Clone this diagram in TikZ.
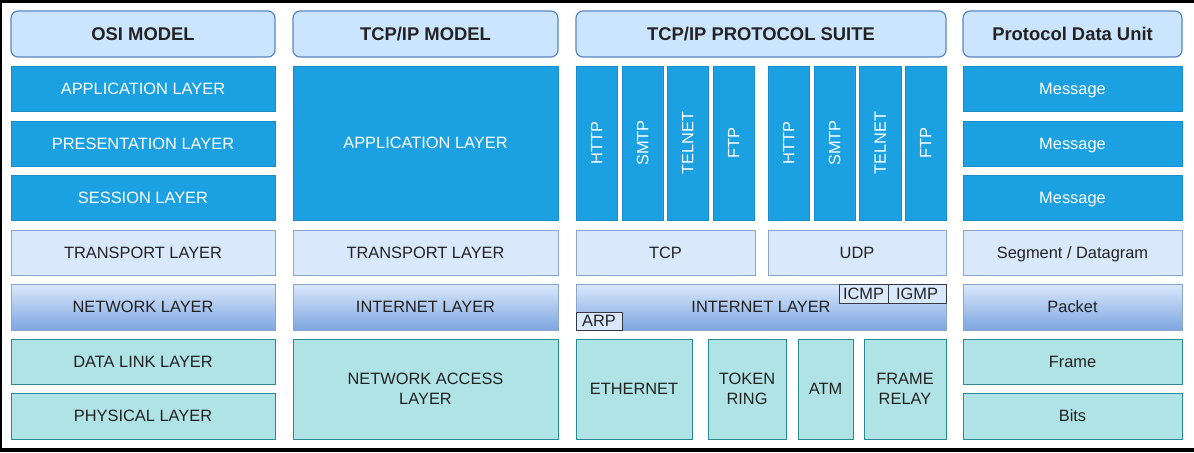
\documentclass[tikz,border=0pt]{standalone}
\usepackage{fontspec}
\setmainfont{Liberation Sans}

\definecolor{hdrfill}{HTML}{CCE5FF}
\definecolor{hdrline}{HTML}{5A85C2}
\definecolor{appfill}{HTML}{1BA1E2}
\definecolor{appline}{HTML}{1A8CCB}
\definecolor{trfill}{HTML}{DAE8FC}
\definecolor{trline}{HTML}{8BA6CC}
\definecolor{nettop}{HTML}{DAE8FC}
\definecolor{netbot}{HTML}{7EA6E0}
\definecolor{linkfill}{HTML}{B0E3E6}
\definecolor{linkline}{HTML}{2A8A92}
\definecolor{tagline}{HTML}{36393D}
\definecolor{labelgray}{HTML}{222222}

\tikzset{
  header/.style={fill=hdrfill, draw=hdrline, rounded corners=3.5pt, line width=0.6pt},
  appbox/.style={fill=appfill, draw=appline, line width=0.5pt},
  trbox/.style={fill=trfill, draw=trline, line width=0.5pt},
  netbox/.style={top color=nettop, bottom color=netbot, draw=trline, line width=0.5pt},
  linkbox/.style={fill=linkfill, draw=linkline, line width=0.5pt},
  tagbox/.style={fill=trfill, draw=tagline, line width=0.5pt},
  hdrtext/.style={font=\fontsize{9.2}{11}\selectfont\bfseries, text=labelgray, inner sep=0pt, text height=6.6pt, text depth=0pt},
  apptext/.style={font=\fontsize{8.2}{10}\selectfont, text=white, inner sep=0pt, text height=5.9pt, text depth=0pt},
  lowtext/.style={font=\fontsize{8.2}{10}\selectfont, text=labelgray, inner sep=0pt, text height=5.9pt, text depth=0pt},
  pairtext/.style={font=\fontsize{8.2}{10}\selectfont, text=labelgray, align=center, inner sep=0pt}
}

\begin{document}
\begin{tikzpicture}[x=0.5pt,y=-0.5pt]
\useasboundingbox (0,0) rectangle (1194,452);
\fill[black] (0,0) rectangle (1194,452);
\fill[white] (2,3) rectangle (1194,448);

% column headers
\draw[header] (11,11) rectangle (275,57);
\draw[header] (293,11) rectangle (558,57);
\draw[header] (576,11) rectangle (946,57);
\draw[header] (963,11) rectangle (1182,57);
\node[hdrtext] (osihead) at (143,34) {OSI MODEL};
\node[hdrtext] (tcphead) at (425.5,34) {TCP/IP MODEL};
\node[hdrtext] (suitehead) at (761,34) {TCP/IP PROTOCOL SUITE};
\node[hdrtext] (pduhead) at (1072.5,34) {Protocol Data Unit};

% OSI model
\draw[appbox] (11,66) rectangle (275,111);
\draw[appbox] (11,121) rectangle (275,166);
\draw[appbox] (11,175) rectangle (275,220);
\draw[trbox] (11,230) rectangle (275,275);
\draw[netbox] (11,284) rectangle (275,330);
\draw[linkbox] (11,339) rectangle (275,384);
\draw[linkbox] (11,393) rectangle (275,439);

\node[apptext] (osiapp) at (143,88.5) {APPLICATION LAYER};
\node[apptext] (osipres) at (143,143.5) {PRESENTATION LAYER};
\node[apptext] (osisess) at (143,197.5) {SESSION LAYER};
\node[lowtext] (ositrans) at (143,252.5) {TRANSPORT LAYER};
\node[lowtext] (osinet) at (143,307) {NETWORK LAYER};
\node[lowtext] (osilink) at (143,361.5) {DATA LINK LAYER};
\node[lowtext] (osiphys) at (143,416) {PHYSICAL LAYER};

% TCP/IP model
\draw[appbox] (293,66) rectangle (558,220);
\draw[trbox] (293,230) rectangle (558,275);
\draw[netbox] (293,284) rectangle (558,330);
\draw[linkbox] (293,339) rectangle (558,439);

\node[apptext] (tcpapp) at (425.5,143) {APPLICATION LAYER};
\node[lowtext] (tcptrans) at (425.5,252.5) {TRANSPORT LAYER};
\node[lowtext] (tcpinet) at (425.5,307) {INTERNET LAYER};
\node[pairtext] (tcpacc) at (425.5,389) {NETWORK ACCESS\\LAYER};

% protocol suite
\draw[appbox] (576,66) rectangle (617,220);
\draw[appbox] (622,66) rectangle (663,220);
\draw[appbox] (667,66) rectangle (708,220);
\draw[appbox] (713,66) rectangle (754,220);
\draw[appbox] (768,66) rectangle (809,220);
\draw[appbox] (814,66) rectangle (855,220);
\draw[appbox] (859,66) rectangle (901,220);
\draw[appbox] (905,66) rectangle (946,220);

\node[apptext,rotate=90] (httpa) at (596.5,143) {HTTP};
\node[apptext,rotate=90] (smtpa) at (642.5,143) {SMTP};
\node[apptext,rotate=90] (telneta) at (687.5,143) {TELNET};
\node[apptext,rotate=90] (ftpa) at (733.5,143) {FTP};
\node[apptext,rotate=90] (httpb) at (788.5,143) {HTTP};
\node[apptext,rotate=90] (smtpb) at (834.5,143) {SMTP};
\node[apptext,rotate=90] (telnetb) at (880,143) {TELNET};
\node[apptext,rotate=90] (ftpb) at (925.5,143) {FTP};

\draw[trbox] (576,230) rectangle (755,275);
\draw[trbox] (768,230) rectangle (946,275);
\node[lowtext] (tcp) at (665.5,252.5) {TCP};
\node[lowtext] (udp) at (857,252.5) {UDP};

\draw[netbox] (576,284) rectangle (946,330);
\node[lowtext] (suiteinet) at (761,307) {INTERNET LAYER};
\draw[tagbox] (839,284) rectangle (888,303);
\draw[tagbox] (888,284) rectangle (946,303);
\draw[tagbox] (576,312) rectangle (622,330);
\node[lowtext] (icmp) at (863.5,293.5) {ICMP};
\node[lowtext] (igmp) at (917,293.5) {IGMP};
\node[lowtext] (arp) at (599,321) {ARP};

\draw[linkbox] (576,339) rectangle (692,439);
\draw[linkbox] (708,339) rectangle (786,439);
\draw[linkbox] (798,339) rectangle (853,439);
\draw[linkbox] (864,339) rectangle (946,439);
\node[lowtext] (ether) at (634,389) {ETHERNET};
\node[pairtext] (token) at (747,389) {TOKEN\\RING};
\node[lowtext] (atm) at (825.5,389) {ATM};
\node[pairtext] (frelay) at (905,389) {FRAME\\RELAY};

% protocol data units
\draw[appbox] (963,66) rectangle (1182,111);
\draw[appbox] (963,121) rectangle (1182,166);
\draw[appbox] (963,175) rectangle (1182,220);
\draw[trbox] (963,230) rectangle (1182,275);
\draw[netbox] (963,284) rectangle (1182,330);
\draw[linkbox] (963,339) rectangle (1182,384);
\draw[linkbox] (963,393) rectangle (1182,439);

\node[apptext] (msga) at (1072.5,88.5) {Message};
\node[apptext] (msgb) at (1072.5,143.5) {Message};
\node[apptext] (msgc) at (1072.5,197.5) {Message};
\node[lowtext] (segment) at (1072.5,252.5) {Segment / Datagram};
\node[lowtext] (packet) at (1072.5,307) {Packet};
\node[lowtext] (frame) at (1072.5,361.5) {Frame};
\node[lowtext] (bits) at (1072.5,416) {Bits};
\end{tikzpicture}
\end{document}
